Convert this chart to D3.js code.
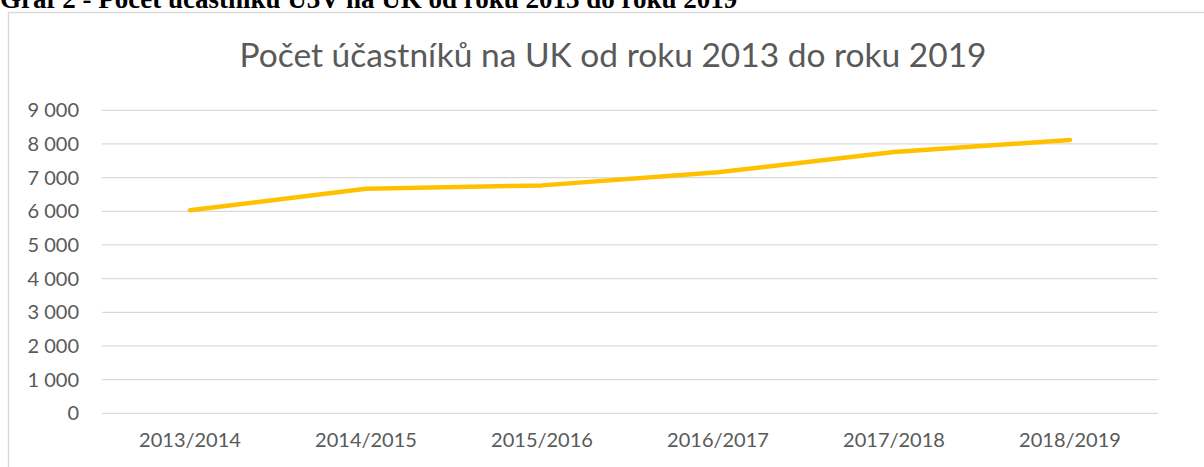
<!DOCTYPE html>
<html>
<head>
<meta charset="utf-8">
<script src="https://cdn.jsdelivr.net/npm/d3@7"></script>
<style>
  html, body { margin: 0; padding: 0; background: #fff; overflow: hidden; }
  svg { display: block; }
</style>
</head>
<body>
<svg id="chart" width="1204" height="467"></svg>
<script>
// ---- Data ----
const years = ["2013/2014", "2014/2015", "2015/2016", "2016/2017", "2017/2018", "2018/2019"];
const participants = [6030, 6670, 6770, 7160, 7760, 8120];
const yTicks = [0, 1000, 2000, 3000, 4000, 5000, 6000, 7000, 8000, 9000];

const headerText = "Graf 2 - Počet účastníků U3V na UK od roku 2013 do roku 2019";
const titleText = "Počet účastníků na UK od roku 2013 do roku 2019";

const W = 1204, H = 467;
const plot = { left: 102, right: 1158, top: 110.3, bottom: 413.3 };
const grey = "#595959";
const font = "Lato, 'Open Sans', sans-serif";

const svg = d3.select("#chart");

// document caption above the chart box (cut off at the top, as in the page)
svg.append("text")
  .attr("x", 0).attr("y", 8)
  .attr("font-family", "'Liberation Serif', 'Times New Roman', serif")
  .attr("font-weight", "bold")
  .attr("font-size", 27)
  .attr("fill", "#000")
  .text(headerText);

// chart box
svg.append("rect")
  .attr("x", 8.5).attr("y", 12.5)
  .attr("width", W + 20).attr("height", H + 20)
  .attr("fill", "#fff")
  .attr("stroke", "#d9d9d9")
  .attr("stroke-width", 1.5);

// title
svg.append("text")
  .attr("x", 613).attr("y", 67)
  .attr("text-anchor", "middle")
  .attr("font-family", font)
  .attr("font-size", 33.5)
  .attr("fill", grey)
  .text(titleText);

// ---- Scales ----
const x = d3.scaleBand().domain(years).range([plot.left, plot.right]);
const y = d3.scaleLinear().domain([0, 9000]).range([plot.bottom, plot.top]);

const fmt = (v) => d3.format(",")(v).replace(/,/g, " ");

// gridlines
svg.append("g")
  .selectAll("line")
  .data(yTicks)
  .join("line")
  .attr("x1", plot.left).attr("x2", plot.right)
  .attr("y1", (d) => y(d)).attr("y2", (d) => y(d))
  .attr("stroke", "#d9d9d9")
  .attr("stroke-width", 1.3);

// y axis labels
const yAxis = svg.append("g")
  .attr("transform", `translate(${plot.left - 23},0)`)
  .call(d3.axisLeft(y).tickValues(yTicks).tickFormat(fmt).tickSize(0).tickPadding(0));
yAxis.select(".domain").remove();
yAxis.selectAll("text")
  .attr("font-family", font)
  .attr("font-size", 20)
  .attr("fill", grey);

// x axis labels
const xAxis = svg.append("g")
  .attr("transform", `translate(0,${plot.bottom})`)
  .call(d3.axisBottom(x).tickSize(0).tickPadding(20));
xAxis.select(".domain").remove();
xAxis.selectAll("text")
  .attr("font-family", font)
  .attr("font-size", 20)
  .attr("fill", grey);

// line
const line = d3.line()
  .x((d, i) => x(years[i]) + x.bandwidth() / 2)
  .y((d) => y(d));

svg.append("path")
  .datum(participants)
  .attr("d", line)
  .attr("fill", "none")
  .attr("stroke", "#FFC000")
  .attr("stroke-width", 4.5)
  .attr("stroke-linecap", "round")
  .attr("stroke-linejoin", "round");
</script>
</body>
</html>
